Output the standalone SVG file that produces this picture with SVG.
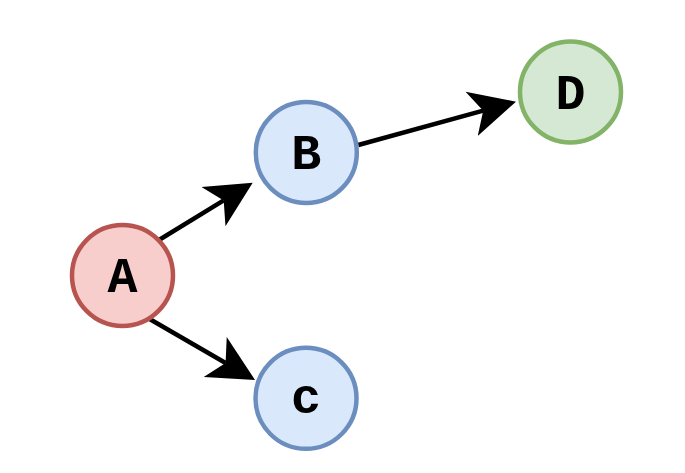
<svg xmlns="http://www.w3.org/2000/svg" width="685" height="473" viewBox="0 0 685 473">
<style>
.n{stroke-width:4.5}
.t{font-family:"Liberation Mono","Courier New",monospace;font-weight:bold;font-size:50px;text-anchor:middle;fill:#000}
.e{stroke:#000;stroke-width:4.5;fill:none}
</style>
<defs>
<marker id="ah" markerUnits="userSpaceOnUse" viewBox="-12 -24 48 48" markerWidth="48" markerHeight="48" refX="0" refY="0" orient="auto">
<path d="M34,0 L-12,-23 L0,0 L-12,23 Z" fill="#000"/>
</marker>
</defs>
<rect width="685" height="473" fill="#fff"/>
<g id="edges">
<path class="e" d="M159,240 L223.7,200.4" marker-end="url(#ah)"/>
<path class="e" d="M148.3,318.3 L225.6,363" marker-end="url(#ah)"/>
<path class="e" d="M358.3,145 L483.2,110.7" marker-end="url(#ah)"/>
</g>
<g id="A"><circle class="n" cx="122.5" cy="275.5" r="50.5" fill="#f8cecc" stroke="#b85450"/><text class="t" x="122.5" y="291.5">A</text></g>
<g id="B"><circle class="n" cx="306.3" cy="152.5" r="50.5" fill="#dae8fc" stroke="#6c8ebf"/><text class="t" x="306.3" y="169">B</text></g>
<g id="C"><circle class="n" cx="306" cy="398.3" r="50.5" fill="#dae8fc" stroke="#6c8ebf"/><text class="t" x="306" y="413">c</text></g>
<g id="D"><circle class="n" cx="570.5" cy="92" r="50.5" fill="#d5e8d4" stroke="#82b366"/><text class="t" x="570.5" y="108.5">D</text></g>
</svg>
